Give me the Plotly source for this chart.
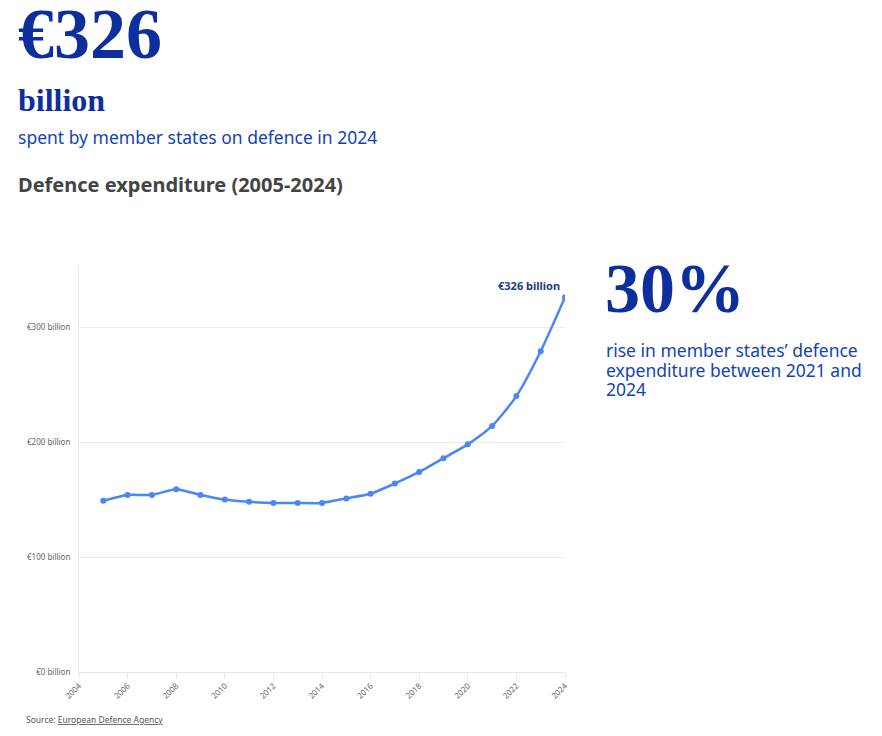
import plotly.graph_objects as go

years = list(range(2005, 2025))
spend_bn = [149, 154, 154, 159, 154, 150, 148, 147, 147, 147,
            151, 155, 164, 174, 186, 198, 214, 240, 279, 326]

y_tickvals = [0, 100, 200, 300]
y_ticktext = ["€0 billion", "€100 billion", "€200 billion", "€300 billion"]
x_tickvals = list(range(2004, 2025, 2))
x_ticktext = [str(v) for v in x_tickvals]

W, H = 882, 736
OFF = 8  # page body margin
L, R, T, B = 79 - OFF, 565 - OFF, 265 - OFF, 672 - OFF

def px(x):
    return (x - OFF - L) / (R - L)

def py(y):
    return (B - (y - OFF)) / (B - T)

DARK_BLUE = "#0d2f9e"
MID_BLUE = "#1244b8"

fig = go.Figure()
fig.add_trace(go.Scatter(
    x=years, y=spend_bn, mode="lines+markers",
    line=dict(color="#4a86f7", width=2.5, shape="spline", smoothing=0.6),
    marker=dict(color="#4a86f7", size=6),
    hoverinfo="x+y", showlegend=False,
))

ann = []
ann.append(dict(x=years[-1], y=spend_bn[-1], xref="x", yref="y",
                text="<b>€326 billion</b>", showarrow=False,
                xanchor="right", yanchor="bottom", xshift=-3, yshift=2,
                font=dict(family="Noto Sans", size=11, color="#1d3c8a")))

ann.append(dict(x=px(16), y=py(-8), xref="paper", yref="paper", text="<b>€326</b>",
                showarrow=False, xanchor="left", yanchor="top",
                font=dict(family="Liberation Serif", size=72, color=DARK_BLUE)))
ann.append(dict(x=px(16), y=py(80), xref="paper", yref="paper", text="<b>billion</b>",
                showarrow=False, xanchor="left", yanchor="top",
                font=dict(family="Liberation Serif", size=32, color=DARK_BLUE)))
ann.append(dict(x=px(16), y=py(123), xref="paper", yref="paper",
                text="spent by member states on defence in 2024",
                showarrow=False, xanchor="left", yanchor="top",
                font=dict(family="Noto Sans", size=17.5, color=MID_BLUE)))
ann.append(dict(x=px(16), y=py(169), xref="paper", yref="paper",
                text="<b>Defence expenditure (2005-2024)</b>",
                showarrow=False, xanchor="left", yanchor="top",
                font=dict(family="Noto Sans", size=20, color="#444444")))
ann.append(dict(x=px(603), y=py(248), xref="paper", yref="paper", text="<b>30%</b>",
                showarrow=False, xanchor="left", yanchor="top",
                font=dict(family="Liberation Serif", size=70, color=DARK_BLUE)))
rise_lines = ["rise in member states’ defence", "expenditure between 2021 and", "2024"]
for i, line in enumerate(rise_lines):
    ann.append(dict(x=px(604), y=py(336 + i * 19.5), xref="paper", yref="paper",
                    text=line, showarrow=False, xanchor="left", yanchor="top",
                    font=dict(family="Noto Sans", size=17.5, color=MID_BLUE)))
ann.append(dict(x=px(24), y=py(712), xref="paper", yref="paper",
                text="Source: <u>European Defence Agency</u>",
                showarrow=False, xanchor="left", yanchor="top",
                font=dict(family="Noto Sans", size=8.5, color="#555555")))

fig.update_layout(
    width=W, height=H,
    margin=dict(l=L, r=W - R, t=T, b=H - B, pad=0),
    paper_bgcolor="white", plot_bgcolor="white",
    annotations=ann,
    xaxis=dict(range=[2004, 2024], tickvals=x_tickvals, ticktext=x_ticktext,
               tickangle=-45, showgrid=False, showline=True, linecolor="#e6e6e6",
               ticks="outside", ticklen=5, tickcolor="#e6e6e6", zeroline=False,
               tickfont=dict(family="Noto Sans", size=8, color="#666666")),
    yaxis=dict(range=[0, 354], tickvals=y_tickvals, ticktext=y_ticktext,
               showgrid=True, gridcolor="#ececec", showline=True, linecolor="#e6e6e6",
               zeroline=False, ticks="", ticklabelstandoff=6,
               tickfont=dict(family="Noto Sans", size=8, color="#666666")),
)

fig.write_html("out.html")
